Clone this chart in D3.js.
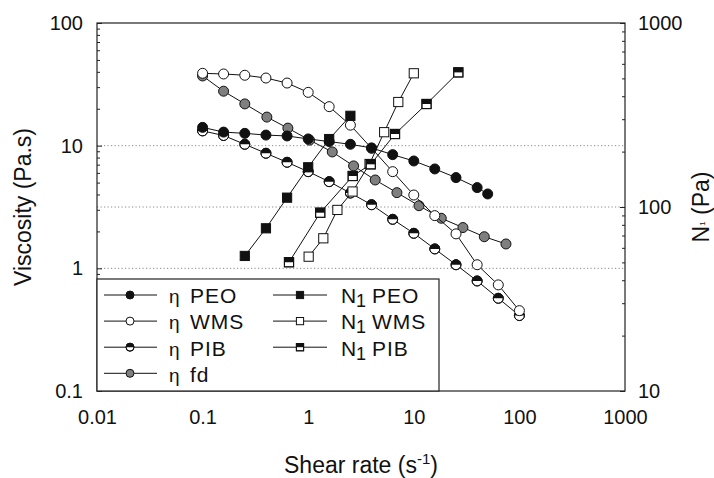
<!DOCTYPE html>
<html>
<head>
<meta charset="utf-8">
<script src="https://cdn.jsdelivr.net/npm/d3@7"></script>
<style>
  html, body { margin: 0; padding: 0; background: #fff; }
  svg { display: block; }
  text { font-family: "Liberation Sans", Arial, sans-serif; fill: #111; }
</style>
</head>
<body>
<svg id="chart" width="714" height="478"></svg>
<script>
// ---- data: shear rate (1/s), viscosity (Pa.s), first normal stress difference (Pa)
const etaPEORate = [0.1, 0.158, 0.251, 0.398, 0.631, 1.0, 1.58, 2.51, 3.98, 6.31, 10, 15.8, 25.1, 39.8, 50.1];
const etaPEO     = [14.1, 12.9, 12.6, 12.2, 12.0, 11.35, 10.8, 10.26, 9.58, 8.45, 7.50, 6.46, 5.49, 4.55, 4.04];

const etaWMSRate = [0.1, 0.158, 0.251, 0.398, 0.631, 1.0, 1.58, 2.51, 3.98, 6.31, 10, 15.8, 25.1, 39.8, 63.1, 100];
const etaWMS     = [38.9, 38.4, 37.5, 35.6, 32.4, 27.2, 20.8, 14.7, 9.53, 6.14, 3.96, 2.69, 1.91, 1.07, 0.733, 0.452];

const etaPIBRate = [0.1, 0.158, 0.251, 0.398, 0.631, 1.0, 1.58, 2.51, 3.98, 6.31, 10, 15.8, 25.1, 39.8, 63.1, 100];
const etaPIB     = [13.2, 12.1, 10.26, 8.67, 7.32, 6.14, 5.09, 4.11, 3.30, 2.51, 1.93, 1.44, 1.07, 0.789, 0.570, 0.412];

const etaFdRate  = [0.1, 0.158, 0.251, 0.406, 0.642, 1.03, 1.69, 2.69, 4.31, 6.92, 11.2, 18.2, 29.2, 46.5, 74.6];
const etaFd      = [37.0, 27.8, 21.9, 17.1, 13.9, 11.1, 8.89, 6.84, 5.25, 4.14, 3.24, 2.56, 2.15, 1.81, 1.58];

const n1PEORate  = [0.251, 0.398, 0.631, 1.0, 1.58, 2.51];
const n1PEO      = [54.2, 76.6, 112.4, 164.4, 234, 313];

const n1WMSRate  = [1.01, 1.39, 1.89, 2.63, 3.81, 5.24, 7.13, 10.0];
const n1WMS      = [53.7, 67.6, 96.4, 121.4, 171.3, 255, 372, 533];

const n1PIBRate  = [0.658, 1.30, 2.64, 3.91, 6.64, 13.2, 26.4];
const n1PIB      = [50.1, 93.1, 147.4, 170.6, 249.3, 362.9, 539];

// ---- axis ticks
const xTicks      = [0.01, 0.1, 1, 10, 100, 1000];
const xTickLabels = ["0.01", "0.1", "1", "10", "100", "1000"];
const yLTicks      = [0.1, 1, 10, 100];
const yLTickLabels = ["0.1", "1", "10", "100"];
const yRTicks      = [10, 100, 1000];
const yRTickLabels = ["10", "100", "1000"];
const gridLeft  = [1, 10];
const gridRight = [100];

// ---- layout
const L = 97, R = 625, T = 23, B = 391;
const svg = d3.select("#chart");

const x  = d3.scaleLog().domain([0.01, 1000]).range([L, R]);
const yL = d3.scaleLog().domain([0.1, 100]).range([B, T]);
const yR = d3.scaleLog().domain([10, 1000]).range([B, T]);

// minor ticks 2..9 within each decade
function logTicks(lo, hi) {
  const out = [];
  for (let e = Math.log10(lo); e < Math.log10(hi); e++) {
    for (let m = 1; m < 10; m++) out.push(m * Math.pow(10, e));
  }
  out.push(hi);
  return out;
}
const isMajor = v => Math.abs(Math.log10(v) - Math.round(Math.log10(v))) < 1e-9;

// dotted reference lines
const grid = svg.append("g").attr("stroke", "#8a8a8a").attr("stroke-width", 1)
  .attr("stroke-dasharray", "1.2,2.3");
gridLeft.forEach(v => grid.append("line").attr("x1", L).attr("x2", R).attr("y1", yL(v)).attr("y2", yL(v)));
gridRight.forEach(v => grid.append("line").attr("x1", L).attr("x2", R).attr("y1", yR(v)).attr("y2", yR(v)));

// ---- axes
const fontTick = "20px";
const xAxis = d3.axisBottom(x).tickValues(xTicks)
  .tickFormat((d, i) => xTickLabels[i]).tickSize(0).tickPadding(19);
const gx = svg.append("g").attr("transform", `translate(0,${B})`).call(xAxis);
gx.select(".domain").remove();
gx.selectAll("text").attr("font-size", fontTick).attr("font-family", "Liberation Sans, Arial, sans-serif").attr("fill", "#111");

const yLAll = logTicks(0.1, 100);
const yAxisL = d3.axisLeft(yL).tickValues(yLAll)
  .tickFormat(d => { const i = yLTicks.findIndex(t => Math.abs(t - d) < 1e-9); return i >= 0 ? yLTickLabels[i] : ""; })
  .tickSizeInner(-5).tickSizeOuter(0).tickPadding(14);
const gyl = svg.append("g").attr("transform", `translate(${L},0)`).call(yAxisL);
gyl.select(".domain").remove();
gyl.selectAll(".tick line").attr("x2", d => isMajor(d) ? 5 : 3).attr("stroke", "#222");
gyl.selectAll("text").attr("font-size", fontTick).attr("font-family", "Liberation Sans, Arial, sans-serif").attr("fill", "#111");

const yRAll = logTicks(10, 1000);
const yAxisR = d3.axisRight(yR).tickValues(yRAll)
  .tickFormat(d => { const i = yRTicks.findIndex(t => Math.abs(t - d) < 1e-9); return i >= 0 ? yRTickLabels[i] : ""; })
  .tickSizeInner(-5).tickSizeOuter(0).tickPadding(13);
const gyr = svg.append("g").attr("transform", `translate(${R},0)`).call(yAxisR);
gyr.select(".domain").remove();
gyr.selectAll(".tick line").attr("x2", d => isMajor(d) ? -5 : -3).attr("stroke", "#222");
gyr.selectAll("text").attr("font-size", fontTick).attr("font-family", "Liberation Sans, Arial, sans-serif").attr("fill", "#111");

// ---- series
const markerStroke = "#111";
function drawMarker(g, shape, fill, size) {
  const r = size;
  if (shape === "circle") {
    g.append("circle").attr("r", r).attr("fill", fill === "half" ? "#fff" : fill)
      .attr("stroke", markerStroke).attr("stroke-width", 1);
    if (fill === "half") {
      g.append("path").attr("d", `M${-r},0 A${r},${r} 0 0 1 ${r},0 Z`).attr("fill", "#111");
      g.append("circle").attr("r", r).attr("fill", "none").attr("stroke", markerStroke).attr("stroke-width", 1);
    }
  } else {
    g.append("rect").attr("x", -r).attr("y", -r).attr("width", 2 * r).attr("height", 2 * r)
      .attr("fill", fill === "half" ? "#fff" : fill).attr("stroke", markerStroke).attr("stroke-width", 1);
    if (fill === "half") {
      g.append("rect").attr("x", -r).attr("y", -r).attr("width", 2 * r).attr("height", r).attr("fill", "#111");
      g.append("rect").attr("x", -r).attr("y", -r).attr("width", 2 * r).attr("height", 2 * r)
        .attr("fill", "none").attr("stroke", markerStroke).attr("stroke-width", 1);
    }
  }
}

const series = [
  { name: "fd",  eta: true,  rate: etaFdRate,  val: etaFd,  shape: "circle", fill: "#7f7f7f" },
  { name: "PIB", eta: true,  rate: etaPIBRate, val: etaPIB, shape: "circle", fill: "half" },
  { name: "WMS", eta: true,  rate: etaWMSRate, val: etaWMS, shape: "circle", fill: "#fff" },
  { name: "PEO", eta: true,  rate: etaPEORate, val: etaPEO, shape: "circle", fill: "#111" },
  { name: "WMS", eta: false, rate: n1WMSRate,  val: n1WMS,  shape: "square", fill: "#fff" },
  { name: "PIB", eta: false, rate: n1PIBRate,  val: n1PIB,  shape: "square", fill: "half" },
  { name: "PEO", eta: false, rate: n1PEORate,  val: n1PEO,  shape: "square", fill: "#111" }
];

const plot = svg.append("g");
series.forEach(s => {
  const yS = s.eta ? yL : yR;
  const pts = s.rate.map((r, i) => [x(r), yS(s.val[i])]);
  const g = plot.append("g");
  g.append("path").attr("d", d3.line()(pts)).attr("fill", "none").attr("stroke", "#111").attr("stroke-width", 1);
  pts.forEach(p => {
    const m = g.append("g").attr("transform", `translate(${p[0]},${p[1]})`);
    drawMarker(m, s.shape, s.fill, s.shape === "circle" ? 5 : 4.6);
  });
});

// frame
svg.append("rect").attr("x", L).attr("y", T).attr("width", R - L).attr("height", B - T)
  .attr("fill", "none").attr("stroke", "#222").attr("stroke-width", 1.2);

// ---- axis titles
svg.append("text").attr("x", (L + R) / 2).attr("y", 473).attr("text-anchor", "middle")
  .attr("font-size", "23px")
  .call(t => {
    t.append("tspan").text("Shear rate (s");
    t.append("tspan").attr("font-size", "15px").attr("dy", -9).text("-1");
    t.append("tspan").attr("dy", 9).text(")");
  });

svg.append("text").attr("transform", `translate(31,${(T + B) / 2}) rotate(-90)`)
  .attr("text-anchor", "middle").attr("font-size", "23px").text("Viscosity (Pa.s)");

svg.append("text").attr("transform", `translate(709,${(T + B) / 2}) rotate(-90)`)
  .attr("text-anchor", "middle").attr("font-size", "23px")
  .call(t => {
    t.append("tspan").text("N");
    t.append("tspan").attr("font-size", "8px").attr("dy", -4).text("1");
    t.append("tspan").attr("dy", 4).text(" (Pa)");
  });

// ---- legend
const legendEta = ["PEO", "WMS", "PIB", "fd"];
const legendN1  = ["PEO", "WMS", "PIB"];
const leg = svg.append("g");
leg.append("rect").attr("x", L).attr("y", 279).attr("width", 439 - L).attr("height", B - 279)
  .attr("fill", "#fff").attr("stroke", "#222").attr("stroke-width", 1.2);

const rowY0 = 295, rowStep = 26.1;
const styleOf = (eta, name) => series.find(s => s.eta === eta && s.name === name);

legendEta.forEach((name, i) => {
  const cy = rowY0 + i * rowStep;
  const s = styleOf(true, name);
  leg.append("line").attr("x1", 104).attr("x2", 157).attr("y1", cy).attr("y2", cy).attr("stroke", "#111");
  drawMarker(leg.append("g").attr("transform", `translate(130,${cy})`), s.shape, s.fill, 4);
  leg.append("text").attr("x", 169).attr("y", cy + 8.3).attr("font-size", "19px")
    .attr("font-family", "Liberation Serif, serif").text("η");
  leg.append("text").attr("x", 190).attr("y", cy + 8.3).attr("font-size", "21px")
    .attr("letter-spacing", "1px").text(name);
});

legendN1.forEach((name, i) => {
  const cy = rowY0 + i * rowStep;
  const s = styleOf(false, name);
  leg.append("line").attr("x1", 273).attr("x2", 327).attr("y1", cy).attr("y2", cy).attr("stroke", "#111");
  drawMarker(leg.append("g").attr("transform", `translate(300,${cy})`), s.shape, s.fill, 3.6);
  leg.append("text").attr("x", 341).attr("y", cy + 8.3).attr("font-size", "21px").text("N");
  leg.append("text").attr("x", 356).attr("y", cy + 12.3).attr("font-size", "18px").text("1");
  leg.append("text").attr("x", 372).attr("y", cy + 8.3).attr("font-size", "21px")
    .attr("letter-spacing", "1px").text(name);
});
</script>
</body>
</html>
